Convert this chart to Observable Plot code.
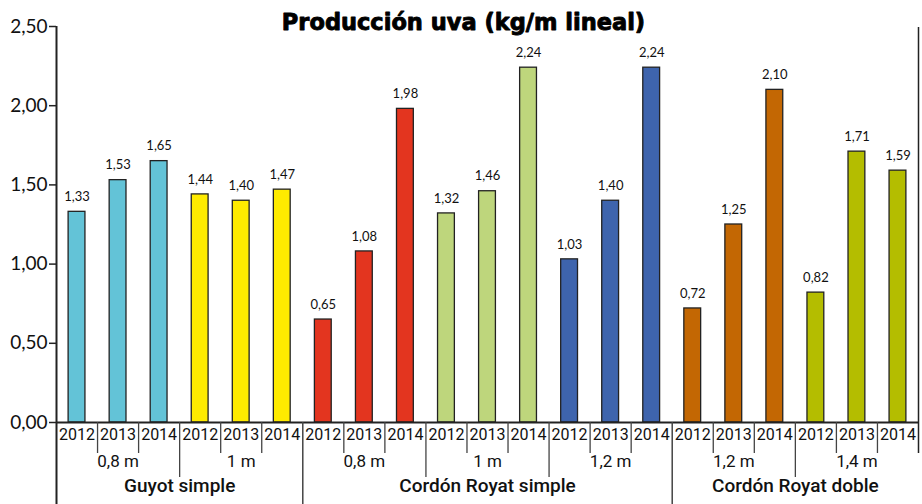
<!DOCTYPE html>
<html>
<head>
<meta charset="utf-8">
<script src="https://cdn.jsdelivr.net/npm/d3@7"></script>
<script src="https://cdn.jsdelivr.net/npm/@observablehq/plot@0.6"></script>
<style>
  html, body { margin: 0; padding: 0; background: #fff; }
  #chart svg { display: block; }
</style>
</head>
<body>
<div id="chart"></div>
<script>
const title = "Producción uva (kg/m lineal)";
const systems = ["Guyot simple", "Cordón Royat simple", "Cordón Royat doble"];
const systemSpan = [[0, 6], [6, 15], [15, 21]];
const spacings = ["0,8 m", "1 m", "0,8 m", "1 m", "1,2 m", "1,2 m", "1,4 m"];
const years = ["2012", "2013", "2014"];
const values = [
  [1.33, 1.53, 1.65],
  [1.44, 1.40, 1.47],
  [0.65, 1.08, 1.98],
  [1.32, 1.46, 2.24],
  [1.03, 1.40, 2.24],
  [0.72, 1.25, 2.10],
  [0.82, 1.71, 1.59]
];
const colors = ["#63c3d7", "#ffeb00", "#e3351f", "#bed67c", "#3e64ad", "#c36703", "#b4bd00"];
const boldGroups = [true, false, false, false, true, false, false];
const yTicks = [0, 0.5, 1, 1.5, 2, 2.5];

const rows = [];
values.forEach((vals, g) => vals.forEach((v, k) => {
  rows.push({i: g * 3 + k, g, year: years[k], value: v, color: colors[g], bold: boldGroups[g]});
}));
const groups = spacings.map((s, g) => ({g, label: s, center: g * 3 + 1.5}));
const sys = systems.map((s, k) => ({label: s, center: (systemSpan[k][0] + systemSpan[k][1]) / 2}));
const bounds = d3.range(1, 21);
const yearBounds = bounds.filter(b => b % 3 !== 0);
const groupBounds = bounds.filter(b => b % 3 === 0 && b !== 6 && b !== 15);
const majorBounds = [6, 15];
const fmt = d => d.toFixed(2).replace(".", ",");

const plot = Plot.plot({
  width: 922,
  height: 504,
  marginLeft: 56,
  marginRight: 4,
  marginTop: 26,
  marginBottom: 82,
  x: {domain: [0, 21], axis: null},
  y: {domain: [0, 2.5], axis: null},
  style: {fontFamily: "Lato, sans-serif", background: "#fff"},
  marks: [
    Plot.rectY(rows, {
      x1: d => d.i + 0.295, x2: d => d.i + 0.705, y1: 0, y2: "value",
      fill: "color", stroke: "#222", strokeWidth: 1.3
    }),
    Plot.text(rows, {
      x: d => d.i + 0.5, y: "value", text: d => fmt(d.value),
      dy: -15, fontSize: 13, fill: "#111", fontFamily: "Lato, sans-serif"
    }),
    // x baseline
    Plot.ruleY([0], {stroke: "#222", strokeWidth: 2}),
    // y axis line extending to bottom
    Plot.ruleX([0], {stroke: "#222", strokeWidth: 2, insetBottom: -82}),
    // right border
    Plot.ruleX([21], {stroke: "#222", strokeWidth: 1.5, insetTop: 1, insetBottom: -31}),
    // y ticks
    Plot.ruleY(yTicks, {x1: 0, x2: 0, insetLeft: -7, stroke: "#222", strokeWidth: 1.5}),
    Plot.text(yTicks, {
      x: 0, y: d => d, text: fmt, textAnchor: "end", dx: -9,
      fontSize: 19, fill: "#111", fontFamily: "Lato, sans-serif"
    }),
    // separators
    Plot.ruleX(yearBounds, {x: d => d, y1: 0, y2: 0, insetBottom: -31, stroke: "#444", strokeWidth: 1.3}),
    Plot.ruleX(groupBounds, {x: d => d, y1: 0, y2: 0, insetBottom: -55, stroke: "#444", strokeWidth: 1.3}),
    Plot.ruleX(majorBounds, {x: d => d, y1: 0, y2: 0, insetBottom: -82, stroke: "#444", strokeWidth: 1.5}),
    // year labels
    Plot.text(rows, {
      x: d => d.i + 0.5, frameAnchor: "bottom", dy: 17, text: "year",
      fontSize: 16, fontWeight: d => d.bold ? "bold" : "normal", fill: "#111",
      fontFamily: "Roboto, sans-serif", letterSpacing: -1
    }),
    // spacing labels
    Plot.text(groups, {
      x: "center", frameAnchor: "bottom", dy: 44, text: "label",
      fontSize: 17, fill: "#111", fontFamily: "Roboto, sans-serif"
    }),
    // system labels
    Plot.text(sys, {
      x: "center", frameAnchor: "bottom", dy: 69, text: "label",
      fontSize: 19, fontWeight: 500, fill: "#111", fontFamily: "Roboto, sans-serif"
    }),
    // title
    Plot.text([title], {
      frameAnchor: "top", dy: -12, dx: -24, text: d => d,
      fontSize: 22.5, fontWeight: "bold", fill: "#000", fontFamily: "DejaVu Sans, sans-serif",
      stroke: "#000", strokeWidth: 0.9
    })
  ]
});
document.getElementById("chart").appendChild(plot);
</script>
</body>
</html>
